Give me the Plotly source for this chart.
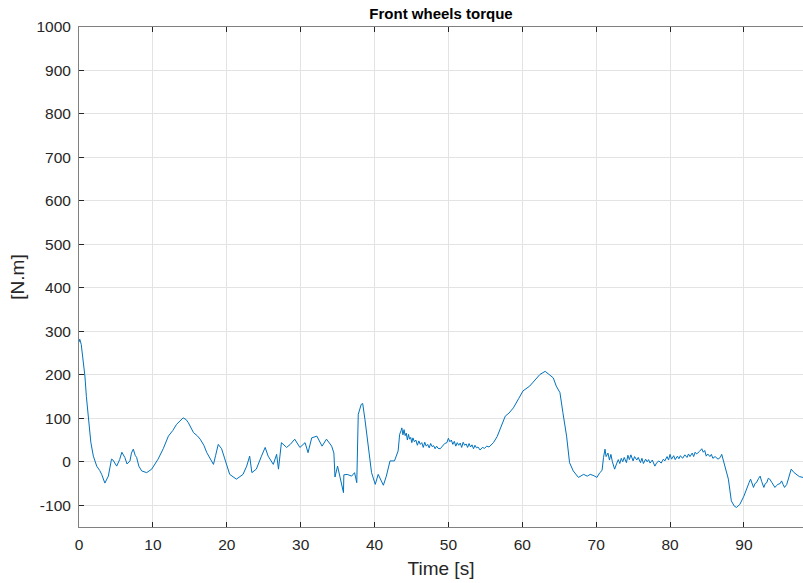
import plotly.graph_objects as go

# Define data, split in segments of the run
# 0 - 43 s : start-up drop and oscillations
seg1_t = [0, 0.1, 0.3, 0.5, 0.8, 1.0, 1.27, 1.6, 1.94, 2.4,
          2.8, 3.07, 3.5, 3.97, 4.4, 4.6, 5.1, 5.5, 5.8, 6.2,
          6.5, 6.9, 7.1, 7.35, 7.6, 7.8, 8.1, 8.48, 9.16, 9.84,
          10.7, 11.4, 12.1, 12.7, 13.2, 13.7, 14.1, 14.5, 14.8, 15.5,
          16.0, 16.4, 16.9, 17.3, 17.8, 18.2, 18.5, 18.85, 19.3, 19.7,
          20.0, 20.4, 21.3, 22.2, 22.7, 23.1, 23.4, 24.0, 24.7, 25.2,
          25.6, 26.3, 26.75, 27.0, 27.4, 28.1, 28.6, 29.2, 29.9, 30.6,
          31.0, 31.5, 32.2, 32.6, 32.9, 33.5, 34.2, 34.5, 34.6, 34.65,
          35.0, 35.3, 35.8, 35.85, 36.3, 36.9, 37.3, 37.6, 37.8, 38.2,
          38.4, 38.7, 39.2, 39.6, 40.1, 40.5, 41.2, 41.6, 42.1, 42.7]
seg1_y = [275, 282, 270, 240, 197, 150, 98, 45, 13, -10,
          -20, -29, -49, -33, 6, 4, -10, 5, 22, 10,
          -5, 2, 20, 29, 15, 10, -10, -21, -25, -17,
          6, 30, 59, 72, 86, 95, 101, 97, 90, 67,
          60, 52, 38, 21, 5, -6, 15, 40, 30, 10,
          -10, -29, -40, -29, -10, 13, -25, -17, 13, 33,
          13, -6, 17, -17, 44, 33, 40, 52, 33, 44,
          21, 55, 59, 44, 36, 52, 36, 20, -2, -35,
          -10, -33, -71, -30, -29, -33, -25, -48, 109, 132,
          134, 98, 36, -25, -52, -29, -54, -33, 2, 2]

# 43 - 57 s : noisy plateau
seg2_t = [43.2, 43.4, 43.6, 43.7, 43.85, 44.0, 44.15, 44.3, 44.45, 44.6,
          44.75, 44.9, 45.05, 45.2, 45.4, 45.6, 45.8, 46.0, 46.2, 46.4,
          46.6, 46.8, 47.0, 47.2, 47.4, 47.6, 47.8, 48.0, 48.2, 48.4,
          48.6, 48.9, 49.2, 49.5, 49.8, 50.0, 50.2, 50.4, 50.6, 50.8,
          51.0, 51.2, 51.4, 51.6, 51.8, 52.0, 52.2, 52.4, 52.6, 52.8,
          53.0, 53.2, 53.4, 53.6, 53.8, 54.0, 54.3, 54.6, 54.9, 55.2,
          55.5, 55.8, 56.1, 56.6]
seg2_y = [25, 63, 72, 78, 62, 74, 60, 66, 50, 63,
          52, 56, 44, 55, 46, 50, 38, 48, 40, 44,
          33, 45, 36, 40, 32, 42, 35, 37, 30, 36,
          31, 30, 36, 42, 44, 54, 46, 50, 40, 47,
          36, 44, 38, 43, 33, 45, 38, 41, 33, 42,
          34, 39, 30, 38, 32, 34, 27, 33, 31, 36,
          34, 39, 44, 58]

# 57 - 70 s : rise to the peak and drop
seg3_t = [57.0, 57.7, 58.2, 58.8, 59.5, 60.1, 61.0, 61.7, 62.4, 63.1,
          63.5, 64.2, 64.6, 65.1, 65.5, 66.0, 66.4, 66.9, 67.6, 68.3,
          68.8, 69.2, 69.7, 70.1]
seg3_y = [75, 105, 112, 124, 145, 163, 174, 188, 201, 208,
          203, 193, 174, 159, 113, 59, -2, -21, -36, -29,
          -33, -29, -32, -36]

# 70 - 87.5 s : noisy band around zero
seg4_t = [70.5, 70.8, 71.0, 71.2, 71.35, 71.6, 71.8, 72.0, 72.2, 72.5,
          72.8, 73.0, 73.2, 73.4, 73.6, 73.8, 74.1, 74.3, 74.5, 74.7,
          75.0, 75.2, 75.5, 75.7, 76.0, 76.2, 76.4, 76.7, 76.9, 77.1,
          77.3, 77.6, 77.95, 78.2, 78.5, 78.8, 79.1, 79.3, 79.6, 79.8,
          80.0, 80.2, 80.5, 80.7, 81.0, 81.2, 81.4, 81.7, 82.0, 82.3,
          82.5, 82.7, 83.0, 83.2, 83.4, 83.6, 84.0, 84.3, 84.5, 84.7,
          84.9, 85.1, 85.4, 85.6, 85.8, 86.1, 86.5, 86.8, 87.0, 87.2,
          87.4]
seg4_y = [-25, -20, 10, 29, 12, 20, 4, 17, 0, -17,
          -3, 5, -4, 8, 0, 10, -2, 15, 5, 16,
          2, 12, 4, 10, -2, 8, -4, 6, 0, 5,
          -3, 4, -10, -2, 2, -3, 6, 2, 12, 4,
          17, 6, 14, 5, 13, 7, 14, 8, 16, 10,
          18, 12, 20, 12, 22, 18, 24, 30, 22, 26,
          13, 18, 12, 17, 8, 12, 6, 10, 17, 5,
          -10]

# 87.5 - 98 s : final dip
seg5_t = [87.9, 88.3, 88.7, 89.0, 89.45, 90.0, 90.4, 90.7, 90.9, 91.1,
          91.3, 91.5, 91.7, 92.0, 92.2, 92.4, 92.7, 92.9, 93.1, 93.3,
          93.5, 93.8, 94.2, 94.4, 94.6, 94.9, 95.1, 95.3, 95.5, 95.8,
          96.0, 96.4, 96.8, 97.1, 97.5, 98.0]
seg5_y = [-40, -90, -102, -105, -98, -79, -59, -48, -40, -52,
          -59, -50, -48, -38, -33, -45, -59, -50, -48, -38,
          -40, -48, -59, -55, -52, -50, -44, -52, -59, -52,
          -40, -17, -25, -29, -34, -36]

time_s = seg1_t + seg2_t + seg3_t + seg4_t + seg5_t
torque_nm = seg1_y + seg2_y + seg3_y + seg4_y + seg5_y

x_ticks = list(range(0, 100, 10))
y_ticks = list(range(-100, 1001, 100))
y_tick_labels = [str(v) for v in y_ticks]  # plain hyphen minus, as in the original

font_family = "Liberation Sans, Arial, sans-serif"
text_css = "#262626"
axis_css = "#808080"
grid_css = "#e3e3e3"

fig = go.Figure()
fig.add_trace(
    go.Scatter(
        x=time_s,
        y=torque_nm,
        mode="lines",
        line=dict(color="#0072BD", width=1),
        showlegend=False,
    )
)

fig.update_layout(
    width=803,
    height=583,
    margin=dict(l=79, r=0, t=27, b=56),
    paper_bgcolor="white",
    plot_bgcolor="white",
    font=dict(family=font_family, size=15.5, color=text_css),
    title=dict(
        text="<b>Front wheels torque</b>",
        x=0.5, xref="paper", xanchor="center",
        y=1 - 14 / 583, yref="container", yanchor="middle",
        font=dict(size=15, color="black"),
    ),
)

fig.update_xaxes(
    range=[0, 98],
    tickvals=x_ticks,
    ticks="inside", ticklen=5, tickcolor=text_css,
    ticklabelstandoff=3,
    showline=True, linecolor=axis_css, linewidth=1, mirror="ticks",
    showgrid=True, gridcolor=grid_css, zeroline=False,
    title=dict(text="Time [s]", standoff=10),
)
fig.update_yaxes(
    range=[-150, 1000],
    tickvals=y_ticks,
    ticktext=y_tick_labels,
    ticks="inside", ticklen=5, tickcolor=text_css,
    ticklabelstandoff=4,
    showline=True, linecolor=axis_css, linewidth=1,
    showgrid=True, gridcolor=grid_css, zeroline=False,
    title=dict(text="[N.m]", standoff=6),
)

# the page body has an 8px default margin; drop it so the figure sits at 0,0
fig.write_html(
    "out.html",
    config={"displayModeBar": False},
    post_script="document.body.style.margin='0';",
)
